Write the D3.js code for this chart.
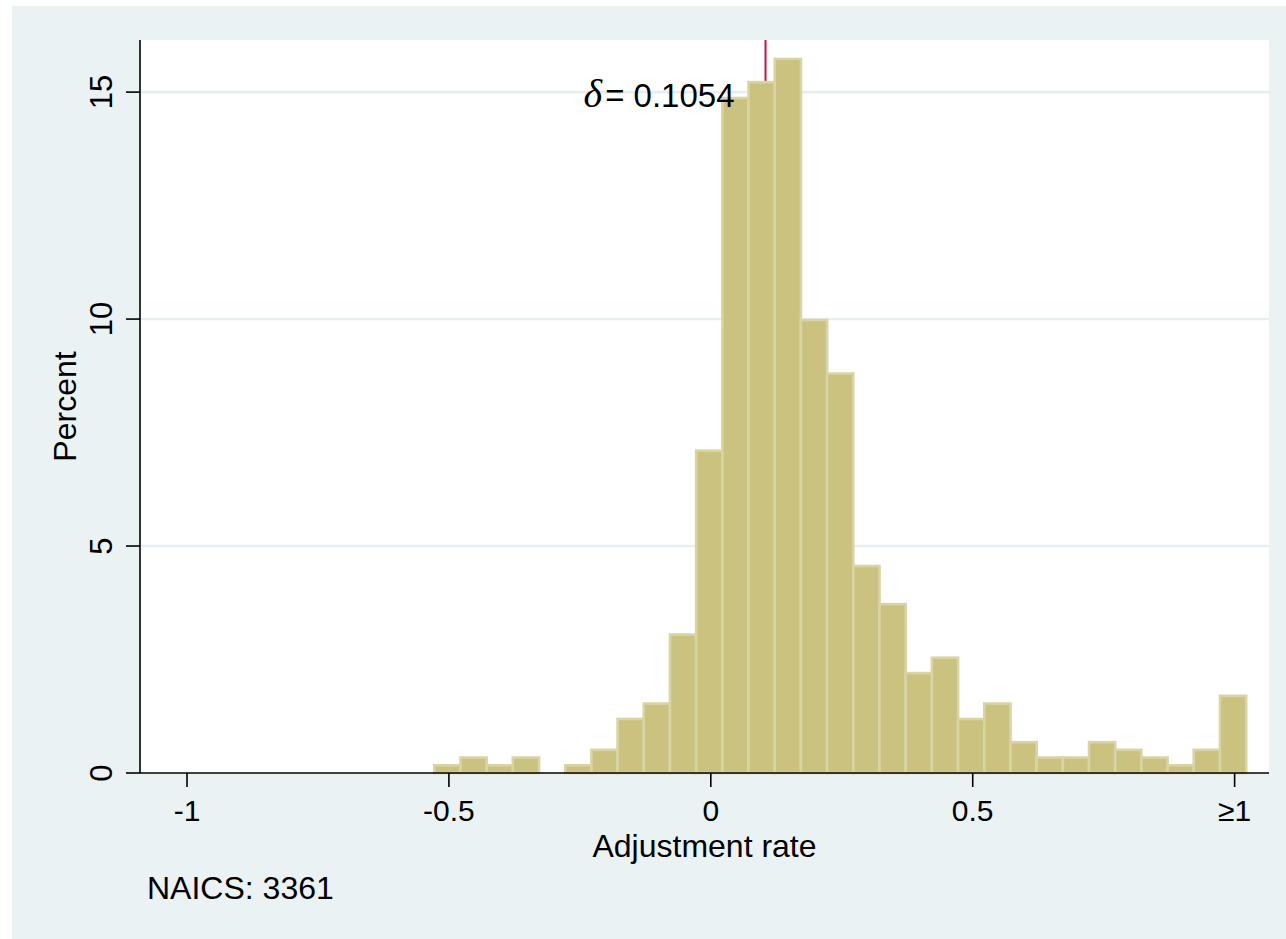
<!DOCTYPE html>
<html>
<head>
<meta charset="utf-8">
<script src="https://cdn.jsdelivr.net/npm/d3@7"></script>
<style>
  body { margin: 0; background: #fff; }
  text { font-family: "Liberation Sans", Arial, sans-serif; fill: #000; }
</style>
</head>
<body>
<div id="chart"></div>
<script>
// histogram bins (percent of firms), bin width 0.05 starting at binStart
const binStart = -0.527;
const binWidth = 0.05;
const percents = [0.17, 0.34, 0.17, 0.34, 0, 0.17, 0.51, 1.19, 1.53, 3.05,
                  7.10, 14.87, 15.22, 15.73, 9.98, 8.80, 4.56, 3.72, 2.20, 2.54,
                  1.19, 1.53, 0.68, 0.34, 0.34, 0.68, 0.51, 0.34, 0.17, 0.51, 1.70];
const xTicks = [-1, -0.5, 0, 0.5, 1];
const xTickLabels = ['-1', '-0.5', '0', '0.5', '\u22651'];
const yTicks = [0, 5, 10, 15];
const delta = 0.1054;
const naics = '3361';

const W = 1286, H = 939;
const margin = { left: 140, top: 40, right: 17, bottom: 166 };

const bins = percents.map((p, i) => ({ x0: binStart + i * binWidth, x1: binStart + (i + 1) * binWidth, p }));

const svg = d3.select('#chart')
  .append('svg')
  .attr('width', W)
  .attr('height', H);

// graph region background
svg.append('rect')
  .attr('x', 12).attr('y', 6)
  .attr('width', W - 12).attr('height', H - 6)
  .attr('fill', '#eaf2f3');

const width = W - margin.left - margin.right;
const height = H - margin.top - margin.bottom;

const g = svg.append('g')
  .attr('transform', `translate(${margin.left},${margin.top})`);

// plot region
g.append('rect')
  .attr('width', width)
  .attr('height', height)
  .attr('fill', '#fff');

const x = d3.scaleLinear().domain([-1.0888, 1.0666]).range([0, width]);
const y = d3.scaleLinear().domain([0, 16.148]).range([height, 0]);

// gridlines
g.selectAll('.grid')
  .data(yTicks.filter(d => d > 0))
  .enter()
  .append('line')
  .attr('class', 'grid')
  .attr('x1', 0).attr('x2', width)
  .attr('y1', d => y(d)).attr('y2', d => y(d))
  .attr('stroke', '#e6eef1')
  .attr('stroke-width', 2.6);

// mean adjustment line (drawn under the bars)
g.append('line')
  .attr('x1', x(delta)).attr('x2', x(delta))
  .attr('y1', 0).attr('y2', y(0))
  .attr('stroke', '#c8143c')
  .attr('stroke-width', 2);

// bars
g.selectAll('.bar')
  .data(bins.filter(d => d.p > 0))
  .enter()
  .append('rect')
  .attr('class', 'bar')
  .attr('x', d => x(d.x0))
  .attr('y', d => y(d.p))
  .attr('width', d => x(d.x1) - x(d.x0))
  .attr('height', d => y(0) - y(d.p))
  .attr('fill', '#cac27e')
  .attr('stroke', '#d9d4a4')
  .attr('stroke-width', 2.6);

// axes
const xAxis = d3.axisBottom(x)
  .tickValues(xTicks)
  .tickFormat((d, i) => xTickLabels[i])
  .tickSize(14)
  .tickPadding(13);
const yAxis = d3.axisLeft(y)
  .tickValues(yTicks)
  .tickSize(14)
  .tickPadding(0);

const xg = g.append('g')
  .attr('transform', `translate(0,${height})`)
  .call(xAxis);
xg.select('.domain').attr('d', `M0,0H${width}`);
xg.selectAll('line, path').attr('stroke', '#000').attr('stroke-width', 1.6);
xg.selectAll('text')
  .style('font-size', '30px')
  .attr('font-family', null);

const yg = g.append('g').call(yAxis);
yg.select('.domain').attr('d', `M0,0V${height}`);
yg.selectAll('line, path').attr('stroke', '#000').attr('stroke-width', 1.6);
yg.selectAll('text')
  .style('font-size', '31px')
  .attr('x', null).attr('dy', null)
  .attr('text-anchor', 'middle')
  .attr('transform', d => `translate(-28,${y(d)}) rotate(-90)`)
  .attr('y', 0);
yg.selectAll('.tick').attr('transform', null);
yg.selectAll('.tick line').attr('y1', d => y(d)).attr('y2', d => y(d));

d3.selectAll('.domain').attr('fill', 'none');
svg.selectAll('.tick text').attr('fill', '#000');

// axis titles
g.append('text')
  .attr('x', width / 2)
  .attr('y', height + 84)
  .attr('text-anchor', 'middle')
  .style('font-size', '32px')
  .text('Adjustment rate');

g.append('text')
  .attr('transform', `translate(-64,${height / 2}) rotate(-90)`)
  .attr('text-anchor', 'middle')
  .style('font-size', '32px')
  .text('Percent');

// note
g.append('text')
  .attr('x', 7)
  .attr('y', height + 126)
  .style('font-size', '32px')
  .text('NAICS: ' + naics);

// delta annotation
const ann = g.append('text')
  .attr('x', x(delta) - 31)
  .attr('y', y(15) + 15)
  .attr('text-anchor', 'end')
  .style('font-size', '33px');
ann.append('tspan')
  .style('font-family', '"Liberation Serif", "DejaVu Serif", serif')
  .style('font-style', 'italic')
  .style('font-size', '40px')
  .text('\u03b4');
ann.append('tspan')
  .attr('dx', 3)
  .text('= ' + delta.toFixed(4));
</script>
</body>
</html>
